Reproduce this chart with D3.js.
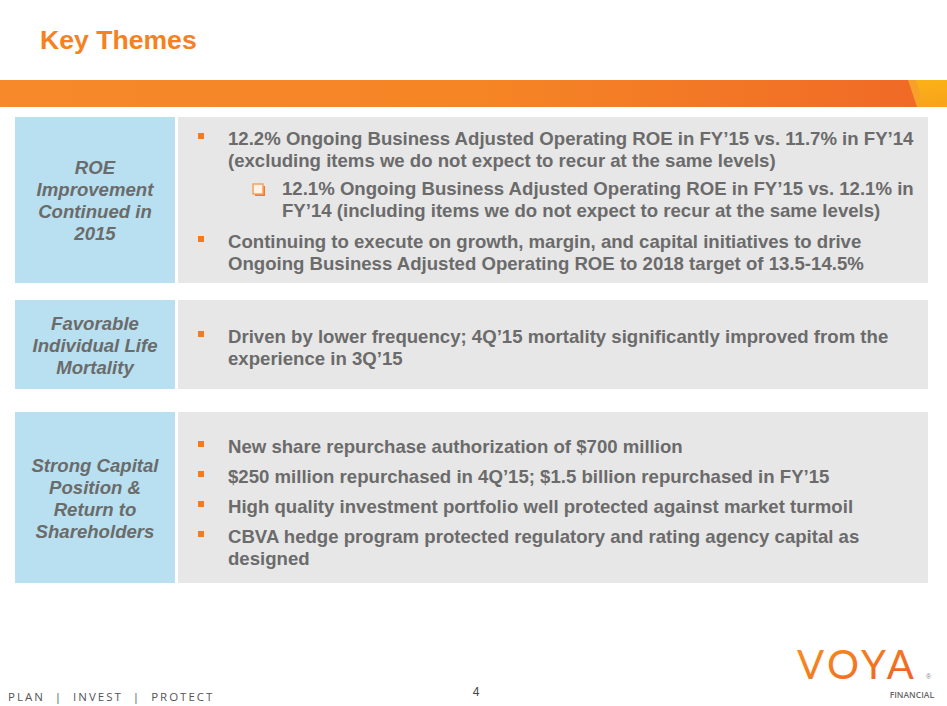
<!DOCTYPE html>
<html>
<head>
<meta charset="utf-8">
<script src="https://cdn.jsdelivr.net/npm/d3@7"></script>
<style>
  html, body { margin: 0; padding: 0; background: #fff; }
  svg { display: block; }
</style>
</head>
<body>
<svg id="chart" width="947" height="706"></svg>
<script>
// ---------- DATA ----------
const title = "Key Themes";
const sectionLabels = [
  ["ROE", "Improvement", "Continued in", "2015"],
  ["Favorable", "Individual Life", "Mortality"],
  ["Strong Capital", "Position &", "Return to", "Shareholders"]
];
const sectionBullets = [
  [
    { level: 1, lines: ["12.2% Ongoing Business Adjusted Operating ROE in FY’15 vs. 11.7% in FY’14", "(excluding items we do not expect to recur at the same levels)"] },
    { level: 2, lines: ["12.1% Ongoing Business Adjusted Operating ROE in FY’15 vs. 12.1% in", "FY’14 (including items we do not expect to recur at the same levels)"] },
    { level: 1, lines: ["Continuing to execute on growth, margin, and capital initiatives to drive", "Ongoing Business Adjusted Operating ROE to 2018 target of 13.5-14.5%"] }
  ],
  [
    { level: 1, lines: ["Driven by lower frequency; 4Q’15 mortality significantly improved from the", "experience in 3Q’15"] }
  ],
  [
    { level: 1, lines: ["New share repurchase authorization of $700 million"] },
    { level: 1, lines: ["$250 million repurchased in 4Q’15; $1.5 billion repurchased in FY’15"] },
    { level: 1, lines: ["High quality investment portfolio well protected against market turmoil"] },
    { level: 1, lines: ["CBVA hedge program protected regulatory and rating agency capital as", "designed"] }
  ]
];
const footerText = "PLAN  |  INVEST  |  PROTECT";
const pageNumber = "4";

// ---------- LAYOUT ----------
const W = 947, H = 706;
const layout = {
  boxTop: [117, 300, 412],
  boxBottom: [283, 389, 583],
  labelX0: 15, labelX1: 175,
  bodyX0: 178, bodyX1: 928,
  labelFirstBaseline: [174, 330, 472],
  bodyFirstBaseline: [145, 343, 453],
  bulletGap: [[0, 6, 9], [0], [0, 8, 8, 8]],
  lineH: 22
};
const C = {
  orange: "#f5821f", blue: "#b8e0f0", gray: "#e7e7e7", text: "#6b6b6b"
};
const FONT = "'Liberation Sans', Arial, sans-serif";
const BODY_SIZE = 18.6;

const svg = d3.select("#chart");
const defs = svg.append("defs");

// Title
svg.append("text").attr("x", 40).attr("y", 49)
  .attr("font-family", FONT).attr("font-weight", "bold").attr("font-size", 26.6)
  .attr("fill", C.orange).text(title);

// Orange band with gradient
const bandGrad = defs.append("linearGradient").attr("id", "band").attr("x1", 0).attr("x2", 1).attr("y1", 0).attr("y2", 0);
bandGrad.append("stop").attr("offset", "0%").attr("stop-color", "#f7892a");
bandGrad.append("stop").attr("offset", "55%").attr("stop-color", "#f58425");
bandGrad.append("stop").attr("offset", "100%").attr("stop-color", "#f06a26");
const yelGrad = defs.append("linearGradient").attr("id", "yel").attr("x1", 0).attr("x2", 1).attr("y1", 0).attr("y2", 1);
yelGrad.append("stop").attr("offset", "0%").attr("stop-color", "#fdbf12");
yelGrad.append("stop").attr("offset", "100%").attr("stop-color", "#f8a21c");

const bandY0 = 80, bandY1 = 107;
svg.append("rect").attr("x", 0).attr("y", bandY0).attr("width", W).attr("height", bandY1 - bandY0).attr("fill", "url(#yel)");
svg.append("path").attr("fill", "#f7a02a")
  .attr("d", `M0,${bandY0}L916,${bandY0}L920,${bandY1 - 12}L917,${bandY1}L0,${bandY1}Z`);
svg.append("path").attr("fill", "url(#band)")
  .attr("d", `M0,${bandY0}L908,${bandY0}L917,${bandY1}L0,${bandY1}Z`);

// Sections
sectionLabels.forEach((labels, i) => {
  const y0 = layout.boxTop[i], y1 = layout.boxBottom[i];
  svg.append("rect").attr("x", layout.labelX0).attr("y", y0)
    .attr("width", layout.labelX1 - layout.labelX0).attr("height", y1 - y0).attr("fill", C.blue);
  svg.append("rect").attr("x", layout.bodyX0).attr("y", y0)
    .attr("width", layout.bodyX1 - layout.bodyX0).attr("height", y1 - y0).attr("fill", C.gray);

  const lab = svg.append("text")
    .attr("font-family", FONT).attr("font-weight", "bold").attr("font-style", "italic")
    .attr("font-size", BODY_SIZE).attr("fill", C.text).attr("text-anchor", "middle");
  labels.forEach((l, k) => {
    lab.append("tspan").attr("x", (layout.labelX0 + layout.labelX1) / 2)
      .attr("y", layout.labelFirstBaseline[i] + k * layout.lineH).text(l);
  });

  let base = layout.bodyFirstBaseline[i];
  sectionBullets[i].forEach((b, j) => {
    base += layout.bulletGap[i][j];
    const tx = b.level === 1 ? 228 : 282;
    if (b.level === 1) {
      svg.append("rect").attr("x", 198).attr("y", base - 12).attr("width", 6).attr("height", 6).attr("fill", "#f47a20");
    } else {
      svg.append("rect").attr("x", 255).attr("y", base - 9).attr("width", 10).attr("height", 10).attr("fill", "#f47a20");
      svg.append("rect").attr("x", 253).attr("y", base - 11).attr("width", 10).attr("height", 10).attr("fill", "#fff3e8")
        .attr("stroke", "#f7a060").attr("stroke-width", 1.5);
    }
    const t = svg.append("text").attr("font-family", FONT).attr("font-weight", "bold")
      .attr("font-size", BODY_SIZE).attr("fill", C.text);
    b.lines.forEach((ln, k) => {
      t.append("tspan").attr("x", tx).attr("y", base + k * layout.lineH).text(ln);
    });
    base += b.lines.length * layout.lineH;
  });
});

// Footer
svg.append("text").attr("x", 8).attr("y", 701)
  .attr("font-family", "'Open Sans', sans-serif").attr("font-size", 11.5)
  .attr("letter-spacing", 2.0).attr("fill", "#555").style("white-space", "pre").text(footerText);
svg.append("text").attr("x", 476).attr("y", 696).attr("text-anchor", "middle")
  .attr("font-family", FONT).attr("font-size", 12).attr("fill", "#444").text(pageNumber);

// Logo
const logoGrad = defs.append("linearGradient").attr("id", "logo").attr("x1", 0).attr("x2", 1).attr("y1", 0).attr("y2", 1);
logoGrad.append("stop").attr("offset", "0%").attr("stop-color", "#f7941d");
logoGrad.append("stop").attr("offset", "100%").attr("stop-color", "#ef5b27");
svg.append("text").attr("x", 797).attr("y", 679)
  .attr("font-family", "Lato, 'Open Sans', sans-serif").attr("font-weight", 400)
  .attr("font-size", 40).attr("letter-spacing", 3.6).attr("fill", "url(#logo)").text("VOYA");
svg.append("text").attr("x", 934).attr("y", 698).attr("text-anchor", "end")
  .attr("font-family", "'Open Sans', sans-serif").attr("font-size", 8.5).attr("font-weight", 600)
  .attr("fill", "#666").text("FINANCIAL");
svg.append("text").attr("x", 926).attr("y", 679)
  .attr("font-family", FONT).attr("font-size", 7).attr("fill", "#888").text("®");
</script>
</body>
</html>
